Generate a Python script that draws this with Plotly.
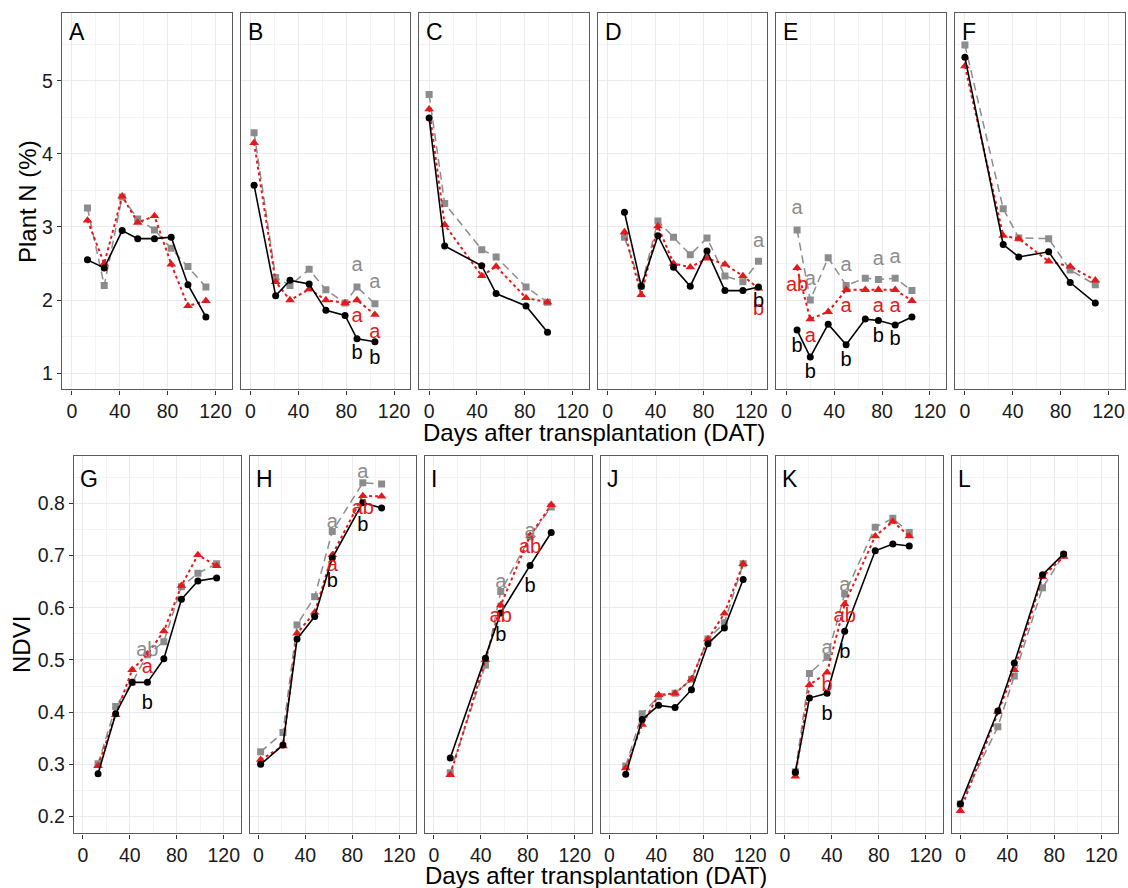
import plotly.graph_objects as go

# ------------------------------------------------------------------ data
# Plant N (%) panels (top row)
A_dat = [13, 27, 42, 55, 69, 83, 97, 112]
A_black = [2.55, 2.44, 2.95, 2.84, 2.84, 2.86, 2.21, 1.77]
A_red = [3.09, 2.50, 3.42, 3.06, 3.15, 2.49, 1.92, 1.99]
A_gray = [3.26, 2.20, 3.41, 3.11, 2.96, 2.71, 2.46, 2.18]

B_dat = [3, 21, 33, 49, 63, 79, 89, 104]
B_black = [3.57, 2.06, 2.27, 2.22, 1.86, 1.79, 1.47, 1.43]
B_red = [4.15, 2.25, 2.00, 2.15, 2.00, 1.96, 2.00, 1.80]
B_gray = [4.29, 2.31, 2.20, 2.42, 2.14, 1.96, 2.18, 1.95]

C_dat = [0, 13, 44, 56, 81, 99]
C_black = [4.49, 2.74, 2.47, 2.09, 1.92, 1.56]
C_red = [4.61, 3.03, 2.33, 2.46, 2.03, 1.97]
C_gray = [4.81, 3.32, 2.69, 2.59, 2.18, 1.97]

D_dat = [14, 28, 42, 55, 69, 83, 98, 113, 126]
D_black = [3.20, 2.19, 2.88, 2.45, 2.19, 2.67, 2.13, 2.13, 2.18]
D_red = [2.93, 2.07, 3.01, 2.50, 2.45, 2.57, 2.49, 2.33, 2.16]
D_gray = [2.86, 2.19, 3.08, 2.86, 2.62, 2.85, 2.33, 2.25, 2.53]

E_dat = [9, 20, 35, 50, 66, 77, 91, 105]
E_black = [1.59, 1.22, 1.67, 1.39, 1.74, 1.72, 1.66, 1.77]
E_red = [2.44, 1.74, 1.84, 2.14, 2.14, 2.14, 2.14, 1.99]
E_gray = [2.96, 2.00, 2.58, 2.20, 2.30, 2.28, 2.30, 2.13]

F_dat = [0, 32, 45, 70, 88, 109]
F_black = [5.32, 2.76, 2.59, 2.66, 2.24, 1.96]
F_red = [5.20, 2.88, 2.84, 2.53, 2.46, 2.27]
F_gray = [5.49, 3.25, 2.85, 2.84, 2.41, 2.21]

# NDVI panels (bottom row)
G_dat = [13, 28, 42, 55, 69, 84, 98, 114]
G_black = [0.282, 0.397, 0.457, 0.457, 0.502, 0.616, 0.651, 0.657]
G_red = [0.297, 0.395, 0.481, 0.511, 0.555, 0.642, 0.701, 0.680]
G_gray = [0.301, 0.411, 0.457, 0.510, 0.535, 0.640, 0.666, 0.684]

H_dat = [2, 21, 33, 48, 63, 89, 105]
H_black = [0.300, 0.337, 0.540, 0.583, 0.695, 0.801, 0.791]
H_red = [0.309, 0.335, 0.551, 0.591, 0.701, 0.814, 0.813]
H_gray = [0.324, 0.361, 0.567, 0.621, 0.746, 0.839, 0.837]

I_dat = [14, 44, 57, 82, 100]
I_black = [0.312, 0.503, 0.590, 0.681, 0.744]
I_red = [0.280, 0.500, 0.605, 0.738, 0.797]
I_gray = [0.284, 0.490, 0.631, 0.736, 0.793]

J_dat = [14, 28, 42, 56, 70, 84, 98, 114]
J_black = [0.281, 0.386, 0.413, 0.409, 0.443, 0.531, 0.561, 0.654]
J_red = [0.293, 0.376, 0.433, 0.436, 0.463, 0.540, 0.589, 0.684]
J_gray = [0.297, 0.397, 0.430, 0.436, 0.463, 0.540, 0.571, 0.684]

K_dat = [9, 21, 36, 51, 77, 92, 106]
K_black = [0.285, 0.427, 0.436, 0.555, 0.709, 0.722, 0.718]
K_red = [0.277, 0.452, 0.476, 0.607, 0.737, 0.765, 0.737]
K_gray = [0.286, 0.474, 0.505, 0.626, 0.754, 0.771, 0.744]

L_dat = [0, 32, 46, 70, 88]
L_black = [0.224, 0.402, 0.494, 0.663, 0.703]
L_red = [0.211, 0.401, 0.481, 0.659, 0.698]
L_gray = [0.224, 0.372, 0.469, 0.638, 0.701]

# significance letters (DAT, label height, letter)
B_lab_dat = [89, 104]
B_lab_gray, B_lab_gray_y = ["a", "a"], [2.46, 2.23]
B_lab_red, B_lab_red_y = ["a", "a"], [1.77, 1.55]
B_lab_black, B_lab_black_y = ["b", "b"], [1.26, 1.20]

D_lab_dat = [126]
D_lab_gray, D_lab_gray_y = ["a"], [2.80]
D_lab_red, D_lab_red_y = ["b"], [1.86]
D_lab_black, D_lab_black_y = ["b"], [1.97]

E_lab_dat = [9, 20, 50, 77, 91]
E_lab_gray, E_lab_gray_y = ["a", "a", "a", "a", "a"], [3.24, 2.28, 2.47, 2.55, 2.57]
E_lab_red, E_lab_red_y = ["ab", "a", "a", "a", "a"], [2.19, 1.49, 1.90, 1.90, 1.90]
E_lab_black, E_lab_black_y = ["b", "b", "b", "b", "b"], [1.36, 1.00, 1.17, 1.50, 1.45]

G_lab_dat = [55]
G_lab_gray, G_lab_gray_y = ["ab"], [0.517]
G_lab_red, G_lab_red_y = ["a"], [0.485]
G_lab_black, G_lab_black_y = ["b"], [0.415]

H_lab_dat = [63, 89]
H_lab_gray, H_lab_gray_y = ["a", "a"], [0.762, 0.857]
H_lab_red, H_lab_red_y = ["a", "ab"], [0.679, 0.789]
H_lab_black, H_lab_black_y = ["b", "b"], [0.650, 0.757]

I_lab_dat = [57, 82]
I_lab_gray, I_lab_gray_y = ["a", "a"], [0.647, 0.745]
I_lab_red, I_lab_red_y = ["ab", "ab"], [0.582, 0.715]
I_lab_black, I_lab_black_y = ["b", "b"], [0.546, 0.640]

K_lab_dat = [36, 51]
K_lab_gray, K_lab_gray_y = ["a", "a"], [0.520, 0.642]
K_lab_red, K_lab_red_y = ["b", "ab"], [0.450, 0.582]
K_lab_black, K_lab_black_y = ["b", "b"], [0.395, 0.513]

panel_letters = ["A", "B", "C", "D", "E", "F", "G", "H", "I", "J", "K", "L"]
x_ticks = [0, 40, 80, 120]
top_y_ticks = [1, 2, 3, 4, 5]
bottom_y_ticks = [0.2, 0.3, 0.4, 0.5, 0.6, 0.7, 0.8]
x_title = "Days after transplantation (DAT)"
top_y_title = "Plant N (%)"
bottom_y_title = "NDVI"

# ------------------------------------------------------------------ assembly
series = {
    "A": (A_dat, A_black, A_red, A_gray), "B": (B_dat, B_black, B_red, B_gray),
    "C": (C_dat, C_black, C_red, C_gray), "D": (D_dat, D_black, D_red, D_gray),
    "E": (E_dat, E_black, E_red, E_gray), "F": (F_dat, F_black, F_red, F_gray),
    "G": (G_dat, G_black, G_red, G_gray), "H": (H_dat, H_black, H_red, H_gray),
    "I": (I_dat, I_black, I_red, I_gray), "J": (J_dat, J_black, J_red, J_gray),
    "K": (K_dat, K_black, K_red, K_gray), "L": (L_dat, L_black, L_red, L_gray),
}
labels = {
    "B": (B_lab_dat, B_lab_gray, B_lab_gray_y, B_lab_red, B_lab_red_y, B_lab_black, B_lab_black_y),
    "D": (D_lab_dat, D_lab_gray, D_lab_gray_y, D_lab_red, D_lab_red_y, D_lab_black, D_lab_black_y),
    "E": (E_lab_dat, E_lab_gray, E_lab_gray_y, E_lab_red, E_lab_red_y, E_lab_black, E_lab_black_y),
    "G": (G_lab_dat, G_lab_gray, G_lab_gray_y, G_lab_red, G_lab_red_y, G_lab_black, G_lab_black_y),
    "H": (H_lab_dat, H_lab_gray, H_lab_gray_y, H_lab_red, H_lab_red_y, H_lab_black, H_lab_black_y),
    "I": (I_lab_dat, I_lab_gray, I_lab_gray_y, I_lab_red, I_lab_red_y, I_lab_black, I_lab_black_y),
    "K": (K_lab_dat, K_lab_gray, K_lab_gray_y, K_lab_red, K_lab_red_y, K_lab_black, K_lab_black_y),
}

W, H = 1128, 888
FONT = "Arial, Liberation Sans, sans-serif"
BLACK, RED, GRAY = "#000000", "#E31A1C", "#8C8C8C"
TXT = "#1a1a1a"

fig = go.Figure()

# pixel layout of the panels
top_left0, top_step, top_w = 62.0, 178.6, 169.5
top_y0, top_y1 = 12.7, 389.3
bot_left0, bot_step, bot_w = 74.0, 175.5, 166.5
bot_y0, bot_y1 = 455.7, 833.3

layout_axes = {}
annotations = []

for i, key in enumerate(panel_letters):
    n = i + 1
    xs = "x" if n == 1 else f"x{n}"
    ys = "y" if n == 1 else f"y{n}"
    xa = "xaxis" if n == 1 else f"xaxis{n}"
    ya = "yaxis" if n == 1 else f"yaxis{n}"
    top = i < 6
    col = i % 6
    if top:
        left = top_left0 + col * top_step
        w = top_w
        py0, py1 = top_y0, top_y1
    else:
        left = bot_left0 + col * bot_step
        w = bot_w
        py0, py1 = bot_y0, bot_y1

    dat, blk, red, gry = series[key]
    fig.add_trace(go.Scatter(x=dat, y=gry, xaxis=xs, yaxis=ys, mode="lines+markers",
                             line=dict(color=GRAY, width=1.5, dash="8px,5px"),
                             marker=dict(symbol="square", size=7, color=GRAY),
                             showlegend=False, hoverinfo="skip"))
    fig.add_trace(go.Scatter(x=dat, y=red, xaxis=xs, yaxis=ys, mode="lines+markers",
                             line=dict(color=RED, width=2, dash="3px,3px"),
                             marker=dict(symbol="triangle-up", size=8.5, color=RED),
                             showlegend=False, hoverinfo="skip"))
    fig.add_trace(go.Scatter(x=dat, y=blk, xaxis=xs, yaxis=ys, mode="lines+markers",
                             line=dict(color=BLACK, width=1.6),
                             marker=dict(symbol="circle", size=7, color=BLACK),
                             showlegend=False, hoverinfo="skip"))
    if key in labels:
        ld, gt, gy, rt, ry, bt, by = labels[key]
        for txt, yy, c in ((gt, gy, GRAY), (rt, ry, RED), (bt, by, BLACK)):
            fig.add_trace(go.Scatter(x=ld, y=yy, xaxis=xs, yaxis=ys, mode="text", text=txt,
                                     textfont=dict(family=FONT, size=20, color=c),
                                     textposition="middle center",
                                     showlegend=False, hoverinfo="skip"))

    xdom = [left / W, (left + w) / W]
    ydom = [1 - py1 / H, 1 - py0 / H]
    common = dict(showline=True, mirror=True, linecolor="#5a5a5a", linewidth=1.4,
                  showgrid=True, gridcolor="#EBEBEB", gridwidth=1.2, zeroline=False,
                  tickfont=dict(family=FONT, size=19.5, color=TXT),
                  tickcolor="#333333", ticklen=4, tickwidth=1.2)
    layout_axes[xa] = dict(domain=xdom, anchor=ys,
                           range=[-8.3, 133.4] if top else [-7.5, 134.3],
                           tickmode="array", tickvals=x_ticks, ticks="outside",
                           minor=dict(tickmode="linear", tick0=0, dtick=20, showgrid=True,
                                      gridcolor="#F3F3F3", gridwidth=0.8, ticklen=0),
                           **common)
    if top:
        yr = [0.78, 5.93]
        yt = top_y_ticks
        ydt = 0.5
        ytext = [str(v) for v in yt]
    else:
        yr = [0.168, 0.891]
        yt = bottom_y_ticks
        ydt = 0.05
        ytext = [f"{v:.1f}" for v in yt]
    layout_axes[ya] = dict(domain=ydom, anchor=xs, range=yr,
                           tickmode="array", tickvals=yt, ticktext=ytext,
                           ticks="outside" if col == 0 else "",
                           showticklabels=(col == 0),
                           minor=dict(tickmode="linear", tick0=0, dtick=ydt, showgrid=True,
                                      gridcolor="#F3F3F3", gridwidth=0.8, ticklen=0),
                           **common)
    # panel letter
    annotations.append(dict(text=key, xref=f"{xs} domain", yref=f"{ys} domain",
                            x=0.03 if top else 0.025, y=0.95 if top else 0.938,
                            xanchor="left", yanchor="middle", showarrow=False,
                            font=dict(family=FONT, size=23, color="#000000")))

# axis titles
annotations += [
    dict(text=x_title, xref="paper", yref="paper", x=594 / W, y=1 - 433 / H,
         xanchor="center", yanchor="middle", showarrow=False,
         font=dict(family=FONT, size=24, color="#000000")),
    dict(text=x_title, xref="paper", yref="paper", x=596 / W, y=1 - 875 / H,
         xanchor="center", yanchor="middle", showarrow=False,
         font=dict(family=FONT, size=24, color="#000000")),
    dict(text=top_y_title, xref="paper", yref="paper", x=27 / W, y=1 - 202 / H,
         xanchor="center", yanchor="middle", textangle=-90, showarrow=False,
         font=dict(family=FONT, size=24, color="#000000")),
    dict(text=bottom_y_title, xref="paper", yref="paper", x=21 / W, y=1 - 645 / H,
         xanchor="center", yanchor="middle", textangle=-90, showarrow=False,
         font=dict(family=FONT, size=24, color="#000000")),
]

fig.update_layout(width=W, height=H, margin=dict(l=0, r=0, t=0, b=0),
                  paper_bgcolor="white", plot_bgcolor="white",
                  showlegend=False, annotations=annotations, **layout_axes)

fig.write_html("out.html")
